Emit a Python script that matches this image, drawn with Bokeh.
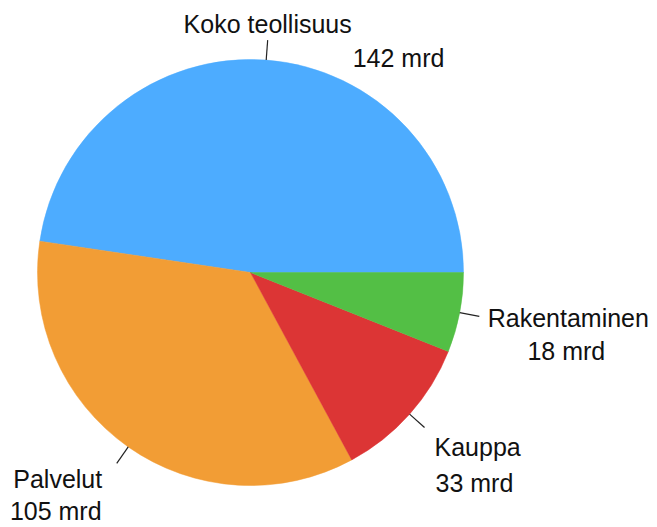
import math
from bokeh.plotting import figure
from bokeh.models import Range1d, ColumnDataSource
from bokeh.core.properties import value
from bokeh.embed import file_html
from bokeh.resources import INLINE

# ---- data ----
categories = ["Koko teollisuus", "Palvelut", "Kauppa", "Rakentaminen"]
values_mrd = [142, 105, 33, 18]
value_labels = ["142 mrd", "105 mrd", "33 mrd", "18 mrd"]
colors = ["#4dacff", "#f29d35", "#dc3535", "#53bf45"]

# ---- layout (page pixels; data y = PAGE_H - page_y) ----
W, H = 657, 527
PAGE_H = 527
CX, CY = 250, PAGE_H - 272
R = 213
LEADER = 20
FONT = "Liberation Sans"
FSIZE = "25px"
BASE_FIX = 9  # renderer places alphabetic baseline slightly low

# label offsets relative to leader end: (name dx, name dy, name align, value dx, value dy, value align)
label_layout = {
    "Koko teollisuus": (0, 7, "center", 85, -27, "left"),
    "Palvelut": (-59, -25, "center", -61, -57, "center"),
    "Kauppa": (10, -29, "left", 11, -65, "left"),
    "Rakentaminen": (89, -11, "center", 87, -44, "center"),
}

total = sum(values_mrd)
starts, ends, mids = [], [], []
acc = 0.0
for v in values_mrd:
    a0 = acc / total * 2 * math.pi
    acc += v
    a1 = acc / total * 2 * math.pi
    starts.append(a0)
    ends.append(a1)
    mids.append((a0 + a1) / 2)

p = figure(width=W, height=H, output_backend="svg", toolbar_location=None,
           x_range=Range1d(0, W), y_range=Range1d(PAGE_H - H, PAGE_H),
           x_axis_type=None, y_axis_type=None, min_border=0,
           min_border_left=0, min_border_right=0, min_border_top=0, min_border_bottom=0)
p.grid.visible = False
p.outline_line_color = None
p.background_fill_color = "white"
p.border_fill_color = "white"

src = ColumnDataSource(dict(start=starts, end=ends, color=colors, cat=categories))
p.wedge(x=CX, y=CY, radius=R, start_angle="start", end_angle="end",
        direction="anticlock", fill_color="color", line_color="color",
        line_width=0.5, source=src)

x0 = [CX + R * math.cos(m) for m in mids]
y0 = [CY + R * math.sin(m) for m in mids]
x1 = [CX + (R + LEADER) * math.cos(m) for m in mids]
y1 = [CY + (R + LEADER) * math.sin(m) for m in mids]
p.segment(x0=x0, y0=y0, x1=x1, y1=y1, line_color="#222222", line_width=1.2)

for i, cat in enumerate(categories):
    ndx, ndy, nal, vdx, vdy, val = label_layout[cat]
    p.text(x=[x1[i] + ndx], y=[y1[i] + ndy + BASE_FIX], text=[cat],
           text_font=value(FONT), text_font_size=FSIZE, text_color="#111111",
           text_align=nal, text_baseline="alphabetic")
    p.text(x=[x1[i] + vdx], y=[y1[i] + vdy + BASE_FIX], text=[value_labels[i]],
           text_font=value(FONT), text_font_size=FSIZE, text_color="#111111",
           text_align=val, text_baseline="alphabetic")

open("out.html", "w").write(file_html(p, INLINE))
